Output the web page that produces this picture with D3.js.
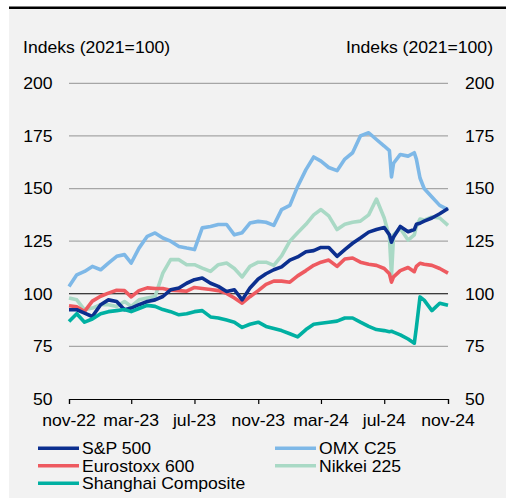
<!DOCTYPE html>
<head>
  <meta charset="utf-8" />
  <script src="https://d3js.org/d3.v7.min.js"></script>
  <style>
    body { margin: 0; background: #fff; }
    text { font-family: "Liberation Sans", Arial, sans-serif; font-size: 16px; fill: #000; }
  </style>
</head>
<body>
<script>
  // datoer (halvmånedlige + ekstra punkter omkring udsving)
  var dates = ["2022-11-01","2022-11-16","2022-12-01","2022-12-16","2023-01-01","2023-01-16",
    "2023-02-01","2023-02-16","2023-03-01","2023-03-16","2023-04-01","2023-04-16","2023-05-01",
    "2023-05-16","2023-06-01","2023-06-16","2023-07-01","2023-07-16","2023-08-01","2023-08-16",
    "2023-09-01","2023-09-16","2023-10-01","2023-10-16","2023-11-01","2023-11-16","2023-12-01",
    "2023-12-16","2024-01-01","2024-01-16","2024-02-01","2024-02-16","2024-03-01","2024-03-16",
    "2024-04-01","2024-04-16","2024-05-01","2024-05-16","2024-06-01","2024-06-16","2024-07-01",
    "2024-07-11","2024-07-15","2024-07-19","2024-08-01","2024-08-16","2024-08-28","2024-09-01",
    "2024-09-08","2024-09-16","2024-10-01","2024-10-16","2024-11-01"];

  var sp500 = [92.4,92.4,90.8,89.2,94.8,97.1,96.3,92.4,93.2,94.8,96.3,97.1,98.7,101.9,102.7,105,106.7,
    107.5,105,103.5,101.1,101.9,97.1,102.7,107,109.5,111.4,112.8,116,117.5,120,120.5,122,122,117.8,
    121,124,126.5,129.3,130.5,131.5,128,124.5,127,132,129.5,130.5,133,133.5,134.5,136,138,140.5];

  var omx = [103.5,109,110.6,113,111.4,114.6,117.8,118.6,114.6,121.7,127.3,128.9,126.5,125,122.5,
    121.7,121,131.3,132,132.9,132.9,128,129,133.6,134.4,134,132.5,140,142,151,159,165,163,160,158.5,
    164,167,175,176.5,173.3,170.2,168,155.5,162,166.2,165.4,167,164,155,150,146,142,140];

  var eurostoxx = [94.3,93.8,91.6,96.5,98.8,100.3,101.7,101.5,98.5,101.5,102.8,102.5,102.5,101.7,
    101.5,101.2,103,102.5,102,101.5,100.2,98,95.5,98.6,101.5,104.5,106,106,105.5,108.5,111,113.5,
    115,116,113,116.5,117,115,114,113.5,112,109.5,105.5,108,111,112.5,110.5,113,114.5,114,113.5,112,109.8];

  var nikkei = [98,97.1,92.4,93.2,94.8,94.8,94,96.3,94,97.1,98,98.7,109.8,116.2,116.2,113.8,113.8,
    112.2,110.6,113.8,114.6,112,108,113,115,115,113.5,118,125,129,133,137.5,140,137,130.5,133,134,
    134.5,137.5,145,136,127,108.5,128,131,125.5,128,132,135.5,135,136.5,136,132.5];

  var shanghai = [86.8,90.5,86.5,88,90.5,91.5,92,92.5,91.5,93,94.5,94,92.5,91.5,90,90.5,91.5,92,
    89,88.5,87.5,86.5,84,85.5,86.5,84.5,83.5,82.5,81,79.5,83,85.5,86,86.5,87,88.5,88.5,86.5,84.5,
    83,82.5,82,82.2,81.8,80.5,78.5,76.5,84,98.5,97,92,95.5,94.5];

  var seriesNames = ["S&P 500", "OMX C25", "Eurostoxx 600", "Nikkei 225", "Shanghai Composite"];
  var seriesColors = ["#0c2f8f", "#7eb8e7", "#ee5a60", "#a9d9c5", "#00b0a2"];
  var seriesValues = [sp500, omx, eurostoxx, nikkei, shanghai];

  var yTicks = [50, 75, 100, 125, 150, 175, 200];
  var xTickDates = ["2022-11-01","2023-03-01","2023-07-01","2023-11-01","2024-03-01","2024-07-01","2024-11-01"];
  var xTickLabels = ["nov-22","mar-23","jul-23","nov-23","mar-24","jul-24","nov-24"];
  var yTitle = "Indeks (2021=100)";

  var width = 506, height = 498;
  var parse = d3.timeParse("%Y-%m-%d");

  var svg = d3.select("body").append("svg")
    .attr("width", width)
    .attr("height", height);

  // baggrund og sort streg i toppen
  svg.append("rect").attr("x", 9).attr("y", 8).attr("width", width - 9).attr("height", height - 8)
    .attr("fill", "#f2f2f2");
  svg.append("rect").attr("x", 9).attr("y", 6.5).attr("width", width - 9).attr("height", 2.5)
    .attr("fill", "#000");

  var x = d3.scaleTime()
    .domain([parse("2022-11-01"), parse("2024-11-01")])
    .range([69, 448]);

  var y = d3.scaleLinear()
    .domain([50, 200])
    .range([399, 83.3]);

  // tekst lidt bredere, som i originalen
  function label(tx, ty, txt, anchor) {
    svg.append("text")
      .attr("transform", "translate(" + tx + "," + ty + ") scale(1.1,1)")
      .attr("text-anchor", anchor)
      .text(txt);
  }

  // gitterlinjer
  svg.append("g").selectAll("line")
    .data(yTicks.filter(function (d) { return d !== 50 && d !== 100; }))
    .join("line")
    .attr("x1", x.range()[0]).attr("x2", x.range()[1])
    .attr("y1", function (d) { return y(d); })
    .attr("y2", function (d) { return y(d); })
    .attr("stroke", "#a6a6a6")
    .attr("stroke-width", 1.2);

  svg.append("line")
    .attr("x1", x.range()[0]).attr("x2", x.range()[1])
    .attr("y1", y(100)).attr("y2", y(100))
    .attr("stroke", "#000").attr("stroke-width", 1.2);

  // y-akser, venstre og højre
  yTicks.forEach(function (v) {
    label(52.5, y(v) + 5.8, v, "end");
    label(465, y(v) + 5.8, v, "start");
  });
  label(23, 52.5, yTitle, "start");
  label(493, 52.5, yTitle, "end");

  // x-akse
  var xAxis = d3.axisBottom(x)
    .tickValues(xTickDates.map(parse))
    .tickSize(5)
    .tickFormat("");
  var gx = svg.append("g")
    .attr("transform", "translate(0," + y(50) + ")")
    .call(xAxis);
  gx.select(".domain").attr("stroke", "#000").attr("stroke-width", 1.2);
  gx.selectAll(".tick line").attr("stroke", "#000").attr("stroke-width", 1.2);

  xTickDates.forEach(function (d, i) {
    label(x(parse(d)), 426, xTickLabels[i], "middle");
  });

  // linjer
  var line = d3.line()
    .x(function (d) { return x(d[0]); })
    .y(function (d) { return y(d[1]); });

  var drawOrder = [1, 3, 2, 0, 4];
  drawOrder.forEach(function (s) {
    var pts = dates.map(function (d, i) { return [parse(d), seriesValues[s][i]]; });
    svg.append("path")
      .datum(pts)
      .attr("d", line)
      .attr("fill", "none")
      .attr("stroke", seriesColors[s])
      .attr("stroke-width", 3.6)
      .attr("stroke-linejoin", "round");
  });

  // forklaring
  var legendPos = [[38, 448.3], [275, 448.3], [38, 465.8], [275, 465.8], [38, 483.3]];
  seriesNames.forEach(function (name, i) {
    var p = legendPos[i];
    svg.append("line")
      .attr("x1", p[0]).attr("x2", p[0] + 41)
      .attr("y1", p[1]).attr("y2", p[1])
      .attr("stroke", seriesColors[i])
      .attr("stroke-width", 3.6);
    label(p[0] + 44, p[1] + 5.7, name, "start");
  });
</script>
</body>
